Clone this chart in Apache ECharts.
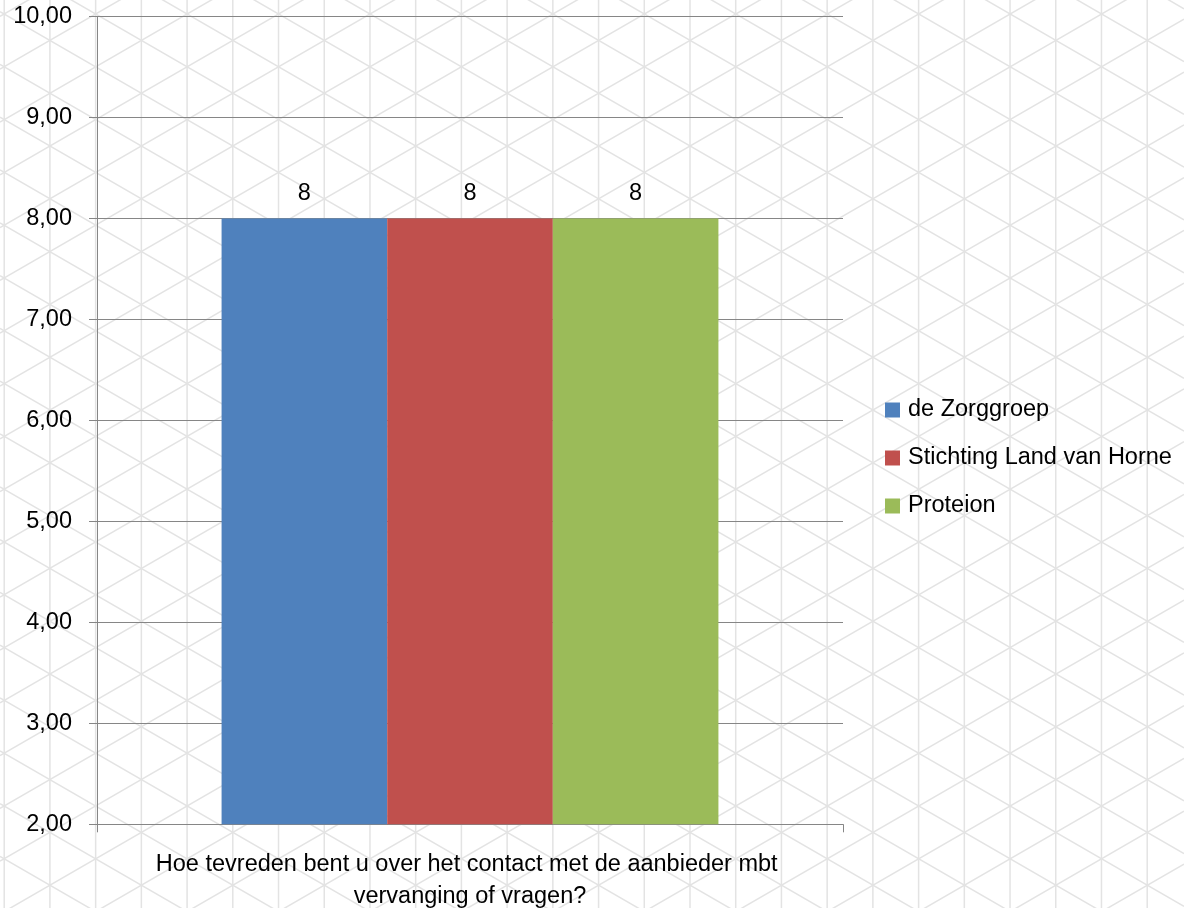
<!DOCTYPE html>
<html>
<head>
<meta charset="utf-8">
<style>
html,body{margin:0;padding:0;background:#fff;}
#chart{width:1184px;height:908px;}
</style>
<script src="https://cdn.jsdelivr.net/npm/echarts@6/dist/echarts.min.js"></script>
</head>
<body>
<div id="chart"></div>
<script>
var categories = ['Hoe tevreden bent u over het contact met de aanbieder mbt vervanging of vragen?'];
var seriesNames = ['de Zorggroep', 'Stichting Land van Horne', 'Proteion'];
var valuesZorggroep = [8];
var valuesLandVanHorne = [8];
var valuesProteion = [8];
var seriesValues = [valuesZorggroep, valuesLandVanHorne, valuesProteion];
var colors = ['#4F81BD', '#C0504D', '#9BBB59'];

var W = 1184, H = 908;
// decorative triangular lattice background
var bg = [];
var d = 45.72, s = 52.8, x0 = 4.2, y0 = 14, t = Math.tan(Math.PI / 6);
var lineStyle = {stroke: '#e3e3e3', lineWidth: 1.5};
for (var k = -1; k < 28; k++) {
  var x = x0 + k * d;
  bg.push({type: 'line', silent: true, z: -10, shape: {x1: x, y1: 0, x2: x, y2: H}, style: lineStyle});
}
for (var m = -16; m < 20; m++) {
  var ya = y0 + m * s;
  bg.push({type: 'line', silent: true, z: -10,
    shape: {x1: 0, y1: ya + (0 - x0) * t, x2: W, y2: ya + (W - x0) * t}, style: lineStyle});
  bg.push({type: 'line', silent: true, z: -10,
    shape: {x1: 0, y1: ya - (0 - x0) * t + s * 13, x2: W, y2: ya - (W - x0) * t + s * 13}, style: lineStyle});
}

var fontFamily = '"Liberation Sans", Arial, sans-serif';
var chart = echarts.init(document.getElementById('chart'));
chart.setOption({
  backgroundColor: '#ffffff',
  animation: false,
  graphic: bg,
  grid: {left: 97, right: 341, top: 16.7, bottom: 83.7, containLabel: false, outerBoundsMode: 'none'},
  legend: {
    orient: 'vertical',
    left: 880,
    top: 393,
    itemWidth: 15,
    itemHeight: 15,
    itemGap: 24,
    icon: 'rect',
    textStyle: {fontFamily: fontFamily, fontSize: 23.5, color: '#000', padding: [0, 0, 0, 3]},
    data: seriesNames
  },
  xAxis: {
    type: 'category',
    data: categories,
    boundaryGap: true,
    axisLine: {show: true, lineStyle: {color: '#868686', width: 1}},
    axisTick: {show: true, length: 8, lineStyle: {color: '#868686'}},
    axisLabel: {
      fontFamily: fontFamily, fontSize: 23.5, color: '#000', margin: 24,
      lineHeight: 32, width: 700, overflow: 'break', align: 'center'
    }
  },
  yAxis: {
    type: 'value',
    min: 2, max: 10, interval: 1,
    axisLine: {show: true, lineStyle: {color: '#868686', width: 1}},
    axisTick: {show: true, length: 8, lineStyle: {color: '#868686'}},
    splitLine: {show: true, lineStyle: {color: '#868686', width: 1}},
    axisLabel: {
      fontFamily: fontFamily, fontSize: 23.5, color: '#000', margin: 25,
      formatter: function (v) { return v.toFixed(2).replace('.', ','); }
    }
  },
  series: seriesNames.map(function (name, i) {
    return {
      name: name,
      type: 'bar',
      data: seriesValues[i],
      barGap: '0%',
      barCategoryGap: '33.4%',
      itemStyle: {color: colors[i]},
      label: {show: true, position: 'top', distance: 13, fontFamily: fontFamily, fontSize: 23.5, color: '#000'}
    };
  })
});
</script>
</body>
</html>
